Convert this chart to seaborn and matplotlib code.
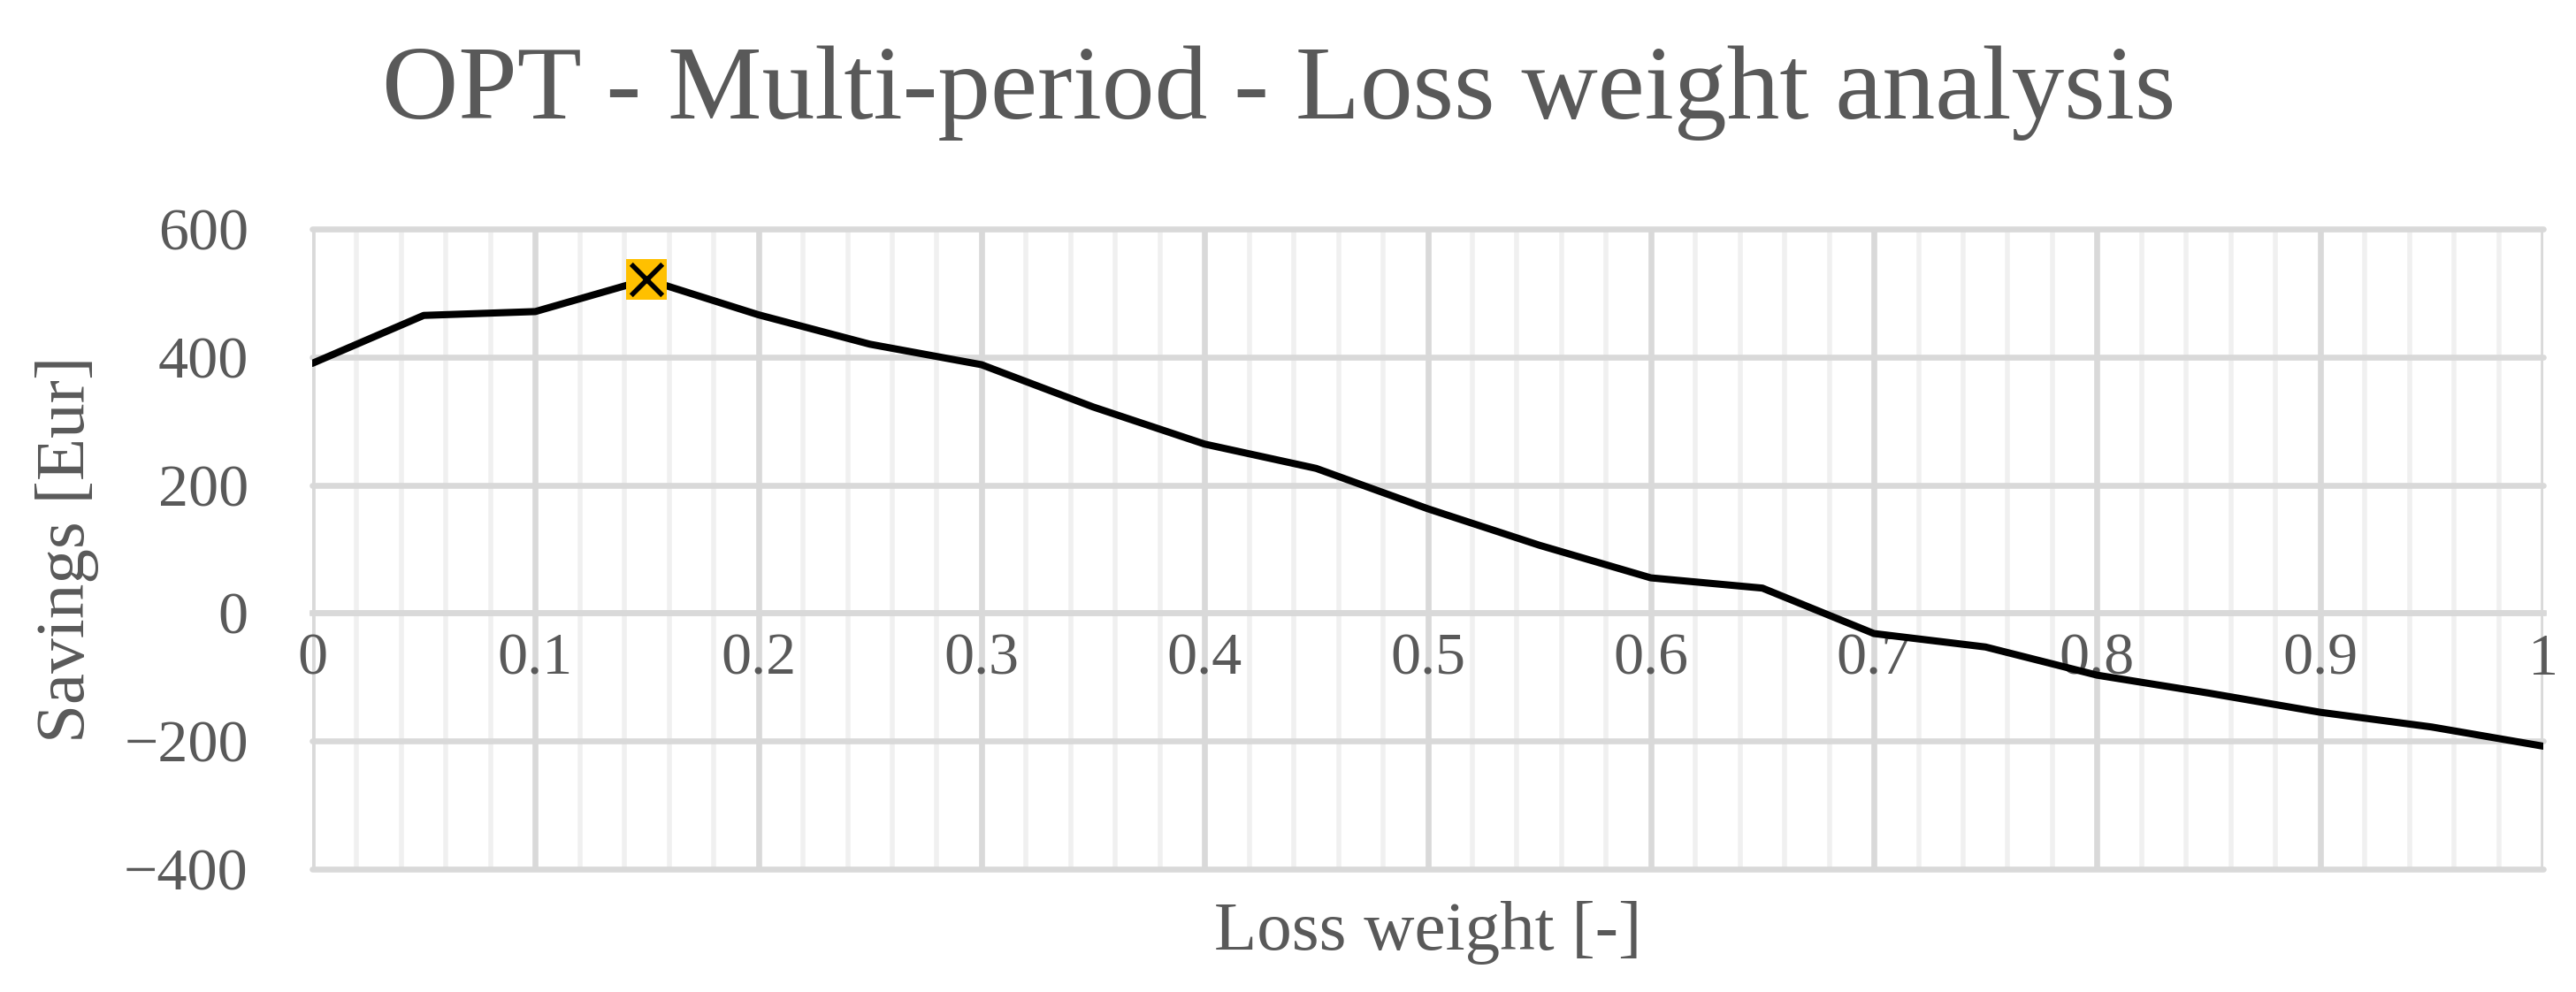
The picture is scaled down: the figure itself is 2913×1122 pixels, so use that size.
import matplotlib
matplotlib.use("Agg")
import matplotlib.pyplot as plt
import seaborn as sns
import pandas as pd
from matplotlib.ticker import MultipleLocator

# data
loss_weight = [0.0, 0.05, 0.1, 0.15, 0.2, 0.25, 0.3, 0.35, 0.4, 0.45, 0.5,
               0.55, 0.6, 0.65, 0.7, 0.75, 0.8, 0.85, 0.9, 0.95, 1.0]
savings = [390, 465, 471, 521, 466, 420, 388, 322, 264, 226, 163,
           106, 55, 39, -32, -53, -97, -125, -155, -178, -208]

y_ticks = [-400, -200, 0, 200, 400, 600]
x_ticks = [0, 0.1, 0.2, 0.3, 0.4, 0.5, 0.6, 0.7, 0.8, 0.9, 1]
x_ticklabels = ["0", "0.1", "0.2", "0.3", "0.4", "0.5", "0.6", "0.7", "0.8", "0.9", "1"]

df = pd.DataFrame({"w": loss_weight, "s": savings})
best = df.loc[[df["s"].idxmax()]]

sns.set_style("white")
plt.rcParams['font.family'] = ['Liberation Serif', 'DejaVu Serif']
TXT = "#595959"
MAJ = "#D9D9D9"
MIN = "#F0F0F0"

fig = plt.figure(figsize=(29.13, 11.22), dpi=100)
ax = fig.add_axes([353/2913, 1 - 983/1122, (2876-353)/2913, (983-259)/1122])

sns.lineplot(data=df, x="w", y="s", color="black", linewidth=5.8, ax=ax, zorder=3)
sns.scatterplot(data=best, x="w", y="s", marker="s", color="#FFC000", s=1050,
                linewidth=0, ax=ax, zorder=4)
sns.scatterplot(data=best, x="w", y="s", marker="x", color="black", s=650,
                linewidth=4, ax=ax, zorder=5)

ax.set_xlim(0, 1)
ax.set_ylim(-400, 600)
ax.set_xticks(x_ticks)
ax.set_xticklabels(x_ticklabels)
ax.xaxis.set_minor_locator(MultipleLocator(0.02))
ax.set_yticks(y_ticks)
ax.set_yticklabels([str(v).replace("-", "\u2212") for v in y_ticks])

ax.grid(which="major", axis="both", color=MAJ, linewidth=4.8, zorder=0)
ax.grid(which="minor", axis="x", color=MIN, linewidth=4.0, zorder=0)
ax.set_axisbelow(True)
for gl in ax.get_xgridlines() + ax.get_ygridlines():
    gl.set_clip_on(False)

for side in ["top", "left", "right"]:
    ax.spines[side].set_visible(False)
ax.spines["bottom"].set_position(("data", 0))
ax.spines["bottom"].set_color(MAJ)
ax.spines["bottom"].set_linewidth(4.8)

ax.tick_params(axis="x", which="both", length=0, pad=16, labelsize=49, labelcolor=TXT)
ax.tick_params(axis="y", which="both", length=0, pad=52, labelsize=49, labelcolor=TXT)

ax.set_xlabel("")
ax.set_ylabel("Savings [Eur]", fontsize=57, color=TXT, labelpad=20)
ax.text(0.5, -0.0995, "Loss weight [-]", transform=ax.transAxes, ha="center",
        va="center", fontsize=57, color=TXT)

fig.text(0.4964, 0.881, "OPT - Multi-period - Loss weight analysis", ha="center",
         va="baseline", fontsize=86, color=TXT)

fig.savefig("out.png", dpi=100)
